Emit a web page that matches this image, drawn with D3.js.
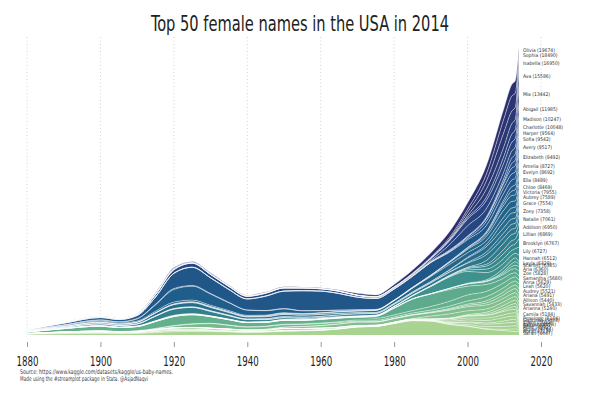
<!DOCTYPE html>
<html>
<head>
<meta charset="utf-8">
<script src="https://cdn.jsdelivr.net/npm/d3@7"></script>
<style>
  body { margin: 0; background: #fff; }
  text { font-family: "Liberation Sans Narrow", "DejaVu Sans Condensed", "Roboto", sans-serif; }
</style>
</head>
<body>
<svg id="chart" width="600" height="400"></svg>
<script>
// years
const years = [1880,1890,1900,1905,1910,1915,1920,1925,1930,1935,1940,1945,1950,1955,1960,1965,1970,1975,1980,1985,1990,1995,2000,2005,2010,2012,2013,2014];

// one series per name, top of the stack first
const olivia    = [0.1,0.2,0.3,0.2,0.3,0.5,0.7,0.7,0.7,0.6,0.5,0.6,0.6,0.6,0.7,0.8,1.7,1.6,2.3,3.1,4.4,5.8,6.5,8.7,10.6,11.6,12.5,5.0];
const sophia    = [0.1,0.1,0.2,0.2,0.3,0.5,0.7,0.6,0.6,0.4,0.3,0.3,0.4,0.3,0.3,0.3,0.2,0.2,0.4,0.6,0.8,1.6,3.1,6.9,13.6,15.0,14.3,5.35];
const isabella  = [0,0,0,0,0,0.2,0.3,0.2,0.2,0.1,0.1,0.1,0.1,0,0,0,0,0,0,0.1,0.3,0.8,3.3,7.9,14.3,12.7,11.9,9.35];
const ava       = [0,0,0,0,0,0.3,0.4,0.3,0.2,0.2,0.2,0.1,0.1,0,0,0,0,0,0,0.1,0.1,0.3,2.0,7.9,9.7,10.4,10.3,17.3];
const mia       = [0,0,0,0,0,0,0,0,0,0,0,0,0,0,0,0,0,0.1,0.2,0.3,0.6,0.8,1.5,3.2,6.6,8.2,8.8,17.65];
const abigail   = [0,0,0,0,0,0,0,0,0,0,0,0,0,0,0.1,0.3,0.3,0.5,0.7,0.9,1.7,3.7,6.6,8.2,8.9,8.7,8.4,12.35];
const madison   = [0,0,0,0,0,0,0,0,0,0,0,0,0,0,0,0,0,0,0,0.1,0.8,5.3,10.2,8.4,6.4,6.9,7.1,8.85];
const charlotte = [0.3,0.7,1.0,0.9,1.1,2.4,3.6,4.1,3.4,3.0,2.6,2.9,3.1,2.7,2.3,2.1,1.7,1.2,1.0,0.9,0.8,0.8,0.9,1.2,3.5,5.4,6.1,6.65];
const harper    = [0,0,0,0,0,0,0,0,0,0,0,0,0,0,0,0,0,0,0,0,0,0,0,0.2,1.8,4.7,5.8,5.5];
const sofia     = [0,0,0,0,0,0,0,0,0,0,0,0,0,0,0,0,0,0,0,0.1,0.2,0.8,1.5,2.9,4.4,5.7,6.3,6.5];
const avery     = [0,0,0,0,0,0,0,0,0,0,0,0,0,0,0,0,0,0,0,0,0.2,0.5,1.3,4.0,5.6,6.2,6.2,9.8];
const elizabeth = [0.6,1.6,2.3,2.2,3.0,7.2,15.3,18.2,15.7,12.9,11.0,14.4,17.5,20.0,19.5,16.6,12.6,11.0,11.0,11.0,12.5,9.3,7.7,6.3,6.6,6.6,6.6,10.2];
const amelia    = [0.1,0.3,0.4,0.4,0.4,0.7,0.9,0.7,0.6,0.4,0.3,0.2,0.3,0.1,0.1,0.1,0.1,0.1,0.1,0.1,0.1,0.2,0.4,0.8,2.7,4.4,5.0,6.7];
const evelyn    = [0.05,0.3,0.9,1.0,2.2,6.3,12.6,13.9,11.2,7.8,5.2,4.4,3.8,2.7,2.0,1.3,0.9,0.6,0.4,0.4,0.4,0.5,0.8,1.3,2.8,4.4,5.1,6.8];
const ella      = [0.5,0.9,1.0,0.9,1.0,1.5,1.8,1.7,1.3,1.1,0.8,0.7,0.6,0.5,0.3,0.2,0.1,0.1,0.1,0.1,0.2,0.3,0.8,2.4,5.1,5.8,6.0,8.0];
const chloe     = [0,0,0,0,0,0,0.2,0.2,0.1,0.1,0.1,0.1,0.1,0.1,0.1,0.1,0.1,0.1,0.1,0.3,0.7,1.9,3.3,4.2,6.9,6.7,6.3,6.0];
const victoria  = [0.05,0.2,0.3,0.2,0.2,0.3,0.5,0.6,0.7,0.7,0.6,0.8,1.0,1.1,1.3,1.6,1.7,2.0,2.6,3.7,5.0,5.3,4.6,4.0,4.6,5.0,5.2,5.0];
const aubrey    = [0,0,0,0,0,0,0,0,0,0,0,0,0,0,0,0,0,0.2,0.2,0.2,0.3,0.5,0.8,2.1,6.1,6.0,5.8,5.2];
const grace     = [0.6,0.9,1.4,1.3,1.6,2.9,4.0,4.3,3.4,2.7,2.1,2.1,2.3,2.0,2.0,1.6,1.1,0.8,0.8,0.9,1.0,1.6,4.3,5.3,5.2,5.2,5.1,6.65];
const zoey      = [0,0,0,0,0,0,0,0,0,0,0,0,0,0,0,0,0,0,0,0,0,0.3,0.8,2.6,4.7,5.0,4.9,8.15];
const natalie   = [0,0,0,0,0,0.3,0.5,0.5,0.6,0.6,0.5,0.8,1.0,1.2,1.3,1.7,2.1,1.8,2.0,2.4,3.0,3.2,4.1,5.8,5.4,5.2,5.0,8.0];
const addison   = [0,0,0,0,0,0,0,0,0,0,0,0,0,0,0,0,0,0,0,0,0,0.1,0.5,3.7,6.4,6.3,5.8,7.5];
const lillian   = [0.4,0.9,1.7,1.6,2.1,4.6,6.3,6.4,4.5,3.4,2.6,2.2,1.9,1.4,1.0,0.7,0.5,0.3,0.3,0.3,0.4,0.5,0.8,1.8,4.1,4.7,4.9,8.15];
const brooklyn  = [0,0,0,0,0,0,0,0,0,0,0,0,0,0,0,0,0,0,0,0,0.1,0.5,1.3,2.9,5.1,5.0,4.8,8.35];
const lily      = [0.05,0.1,0.2,0.1,0.2,0.3,0.5,0.4,0.3,0.2,0.2,0.2,0.3,0.1,0.1,0.1,0.1,0.1,0.1,0.1,0.2,0.6,1.5,3.4,4.7,4.8,4.6,8.35];
const hannah    = [0.1,0.2,0.4,0.3,0.3,0.3,0.5,0.4,0.3,0.2,0.2,0.2,0.3,0.3,0.3,0.3,0.3,0.5,1.3,3.1,7.2,11.1,11.8,7.4,4.8,4.7,4.6,6.3];
const layla     = [0,0,0,0,0,0,0,0,0,0,0,0,0,0,0,0,0,0,0,0,0,0.2,0.5,1.1,3.3,3.8,3.9,2.65];
const scarlett  = [0,0,0,0,0,0,0,0,0,0,0,0,0,0,0,0,0,0,0,0,0,0.1,0.1,0.3,1.6,2.9,3.5,2.35];
const aria      = [0,0,0,0,0,0,0,0,0,0,0,0,0,0,0,0,0,0,0,0,0,0,0.1,0.3,1.5,2.7,3.4,4.5];
const zoe       = [0,0,0,0,0,0,0.1,0.1,0.1,0.1,0.1,0.1,0.1,0.1,0.1,0.1,0.1,0.1,0.1,0.2,0.4,1.1,2.3,2.9,3.9,4.1,4.1,4.85];
const samantha  = [0,0,0,0,0,0,0,0,0,0,0,0,0.1,0.1,0.3,0.3,0.3,2.0,6.8,11.5,12.4,11.7,8.7,6.9,4.7,4.4,4.1,4.0];
const anna      = [1.5,3.3,4.8,4.0,4.4,7.1,9.0,9.1,6.7,5.4,4.2,3.9,3.8,3.5,3.6,3.5,2.9,2.0,2.0,2.4,3.6,4.8,6.1,5.3,4.8,4.4,4.1,4.15];
const leah      = [0.05,0.1,0.1,0.1,0.2,0.3,0.5,0.4,0.3,0.3,0.3,0.3,0.5,0.5,0.5,0.8,1.1,1.2,1.3,1.5,1.8,2.4,3.1,4.1,4.1,4.0,3.9,4.6];
const audrey    = [0,0,0.1,0.1,0.3,0.8,1.8,3.2,4.5,3.6,2.8,2.8,2.5,2.2,2.0,1.5,0.9,0.6,0.4,0.5,0.6,0.8,1.3,2.1,3.1,3.6,3.7,4.75];
const ariana    = [0,0,0,0,0,0,0,0,0,0,0,0,0,0,0,0,0,0,0.1,0.2,0.3,0.8,1.3,2.1,3.4,4.0,4.1,4.4];
const allison   = [0,0,0,0,0,0,0.1,0.1,0.2,0.2,0.3,0.7,1.3,1.9,2.6,3.3,3.4,3.2,3.3,3.4,3.3,3.7,4.1,4.0,3.6,3.8,3.7,4.25];
const savannah  = [0,0,0,0,0,0,0,0,0,0,0,0,0,0,0,0,0.1,0.2,0.3,0.6,2.8,4.2,3.8,3.2,3.5,3.6,3.6,3.7];
const arianna   = [0,0,0,0,0,0,0,0,0,0,0,0,0,0,0,0,0,0,0,0,0.1,0.3,0.8,1.6,2.8,3.2,3.4,5.5];
const camila    = [0,0,0,0,0,0,0,0,0,0,0,0,0,0,0,0,0,0,0,0.1,0.1,0.3,0.5,1.3,2.1,2.7,3.1,5.15];
const penelope  = [0,0,0,0,0,0,0,0,0,0,0,0,0,0,0,0,0,0,0,0,0,0.1,0.2,0.3,1.4,2.4,2.9,2.5];
const gabriella = [0,0,0,0,0,0,0,0,0,0,0,0,0,0,0,0,0,0,0.1,0.2,0.3,1.1,2.0,2.6,3.4,3.5,3.4,2.0];
const claire    = [0.05,0.1,0.3,0.2,0.3,0.8,1.4,1.7,1.7,1.5,1.3,1.4,1.9,1.7,1.6,1.3,1.1,0.8,0.7,0.7,0.8,1.3,1.8,2.4,2.8,3.1,3.3,2.0];
const aaliyah   = [0,0,0,0,0,0,0,0,0,0,0,0,0,0,0,0,0,0,0,0,0,1.1,2.0,2.4,3.4,3.4,3.1,1.85];
const sadie     = [0.3,0.7,1.0,0.9,0.9,1.1,1.1,1.0,0.7,0.6,0.4,0.3,0.4,0.3,0.3,0.2,0.1,0.1,0.1,0.1,0.2,0.3,0.8,1.3,2.2,2.9,3.2,1.65];
const riley     = [0,0,0,0,0,0,0,0,0,0,0,0,0,0,0,0,0,0,0.1,0.2,0.3,0.8,1.8,2.4,3.4,3.5,3.4,1.65];
const skylar    = [0,0,0,0,0,0,0,0,0,0,0,0,0,0,0,0,0,0,0.1,0.1,0.3,0.8,1.5,2.1,2.8,3.0,3.1,1.7];
const nora      = [0.45,0.9,1.0,0.8,0.8,1.1,1.4,1.3,0.9,0.7,0.5,0.4,0.4,0.4,0.3,0.2,0.2,0.1,0.1,0.1,0.2,0.2,0.3,0.5,1.3,2.2,2.7,1.85];
const sarah     = [0.7,1.3,1.6,1.4,1.6,2.4,3.2,3.5,3.4,3.0,2.6,2.9,3.8,4.1,4.6,6.0,8.0,8.6,11.5,14.3,13.8,10.6,8.7,5.8,4.4,3.8,3.4,3.3];

const names = ["Olivia","Sophia","Isabella","Ava","Mia","Abigail","Madison","Charlotte","Harper","Sofia",
  "Avery","Elizabeth","Amelia","Evelyn","Ella","Chloe","Victoria","Aubrey","Grace","Zoey",
  "Natalie","Addison","Lillian","Brooklyn","Lily","Hannah","Layla","Scarlett","Aria","Zoe",
  "Samantha","Anna","Leah","Audrey","Ariana","Allison","Savannah","Arianna","Camila","Penelope",
  "Gabriella","Claire","Aaliyah","Sadie","Riley","Skylar","Nora","Sarah"];
const counts = [19674,18490,16950,15586,13442,11985,10247,10048,9564,9542,
  9517,9492,8727,8692,8489,8469,7955,7589,7554,7358,
  7061,6950,6869,6767,6727,6512,6428,6385,6360,5828,
  5680,5629,5620,5521,5491,5440,5433,5240,5184,5104,
  5084,5012,4974,4903,4832,4784,4713,4647];
const series = [olivia,sophia,isabella,ava,mia,abigail,madison,charlotte,harper,sofia,
  avery,elizabeth,amelia,evelyn,ella,chloe,victoria,aubrey,grace,zoey,
  natalie,addison,lillian,brooklyn,lily,hannah,layla,scarlett,aria,zoe,
  samantha,anna,leah,audrey,ariana,allison,savannah,arianna,camila,penelope,
  gabriella,claire,aaliyah,sadie,riley,skylar,nora,sarah];
const xTicks = [1880,1900,1920,1940,1960,1980,2000,2020];

const svg = d3.select('#chart');
const baseY = 335, topY = 48;

// table for d3.stack: one row per year
const table = years.map((yr, i) => {
  const row = { year: yr };
  names.forEach((n, j) => { row[n] = series[j][i]; });
  return row;
});

// bottom of the stack is the last name
const keys = names.slice().reverse();
const stacked = d3.stack().keys(keys)(table);

const x = d3.scaleLinear().domain([1880, 2020]).range([27, 541]);
const y = d3.scaleLinear()
  .domain([0, d3.max(stacked[stacked.length - 1], d => d[1])])
  .range([baseY, topY]);

// palette: light green at the bottom of the stack, navy on top
const color = d3.scaleLinear()
  .domain([0, 0.15, 0.3, 0.4, 0.5, 0.6, 0.72, 0.85, 1])
  .range(['#a9d391', '#98cb8e', '#74b98c', '#4fa38c', '#36888c', '#286f8b', '#1f5d8a', '#254a86', '#2c2f6e'])
  .interpolate(d3.interpolateRgb);

// dotted grid
svg.append('g')
  .selectAll('line')
  .data(xTicks)
  .enter()
  .append('line')
  .attr('x1', d => x(d)).attr('x2', d => x(d))
  .attr('y1', 37).attr('y2', baseY)
  .attr('stroke', '#c8c8c8')
  .attr('stroke-width', 0.8)
  .attr('stroke-dasharray', '1,2.5');

const area = d3.area()
  .x(d => x(d.data.year))
  .y0(d => y(d[0]))
  .y1(d => y(d[1]))
  .curve(d3.curveMonotoneX);

const edge = d3.line()
  .x(d => x(d.data.year))
  .y(d => y(d[1]))
  .curve(d3.curveMonotoneX);

svg.append('g')
  .selectAll('path')
  .data(stacked)
  .enter()
  .append('path')
  .attr('d', area)
  .attr('fill', (d, i) => color(i / (keys.length - 1)));

svg.append('g')
  .selectAll('path')
  .data(stacked)
  .enter()
  .append('path')
  .attr('d', edge)
  .attr('fill', 'none')
  .attr('stroke', '#ffffff')
  .attr('stroke-opacity', 0.75)
  .attr('stroke-width', 0.6);

// labels at the middle of each band in the last year
const last = years.length - 1;
svg.append('g')
  .selectAll('text')
  .data(stacked)
  .enter()
  .append('text')
  .attr('x', x(years[last]) + 4)
  .attr('y', d => (y(d[last][0]) + y(d[last][1])) / 2)
  .attr('dy', '0.35em')
  .attr('font-size', '5px')
  .attr('fill', '#333')
  .text(d => d.key + ' (' + counts[names.indexOf(d.key)] + ')');

// x axis
const axis = svg.append('g')
  .attr('transform', 'translate(0,' + 342 + ')')
  .call(d3.axisBottom(x).tickValues(xTicks).tickFormat(d3.format('d')).tickSize(5).tickPadding(9));
axis.select('.domain').remove();
axis.selectAll('line').attr('stroke', '#999');
axis.selectAll('text')
  .attr('font-size', '14px')
  .attr('fill', '#222')
  .attr('textLength', 22)
  .attr('lengthAdjust', 'spacingAndGlyphs')
  .style('font-family', '"Liberation Sans Narrow", "DejaVu Sans Condensed", sans-serif');

// title
svg.append('text')
  .attr('x', 300)
  .attr('y', 31)
  .attr('text-anchor', 'middle')
  .attr('font-size', '21px')
  .attr('fill', '#222')
  .attr('textLength', 298)
  .attr('lengthAdjust', 'spacingAndGlyphs')
  .text('Top 50 female names in the USA in 2014');

// source notes
svg.append('text')
  .attr('x', 20).attr('y', 374)
  .attr('font-size', '6.5px').attr('fill', '#444')
  .attr('textLength', 153).attr('lengthAdjust', 'spacingAndGlyphs')
  .text('Source: https://www.kaggle.com/datasets/kaggle/us-baby-names.');
svg.append('text')
  .attr('x', 20).attr('y', 381)
  .attr('font-size', '6.5px').attr('fill', '#444')
  .attr('textLength', 128).attr('lengthAdjust', 'spacingAndGlyphs')
  .text('Made using the #streamplot package in Stata. @AsjadNaqvi');
</script>
</body>
</html>
